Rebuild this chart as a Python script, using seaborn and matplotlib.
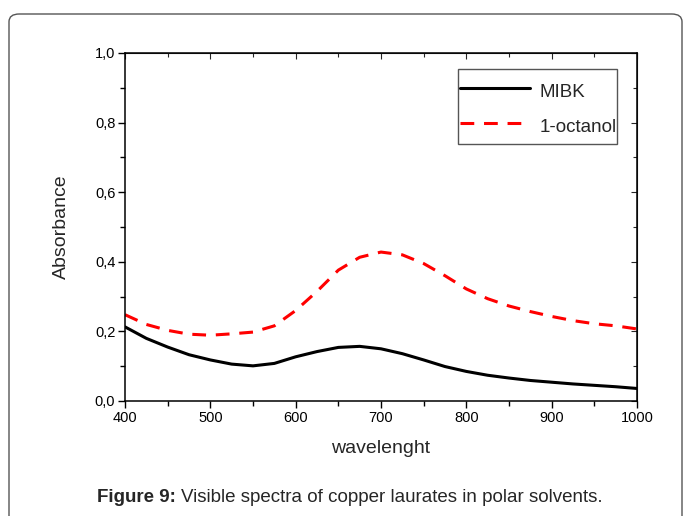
import matplotlib
matplotlib.use("Agg")
import matplotlib.pyplot as plt
import seaborn as sns
import pandas as pd
from matplotlib.patches import FancyBboxPatch, Rectangle
from matplotlib.lines import Line2D
from matplotlib.ticker import MultipleLocator, FuncFormatter

# Absorbance spectra (wavelength in nm)
wavelength = [400, 425, 450, 475, 500, 525, 550, 575, 600, 625, 650, 675, 700,
              725, 750, 775, 800, 825, 850, 875, 900, 925, 950, 975, 1000]
mibk = [0.213, 0.180, 0.155, 0.133, 0.118, 0.106, 0.101, 0.108, 0.127, 0.142,
        0.154, 0.157, 0.150, 0.136, 0.118, 0.099, 0.085, 0.074, 0.066, 0.059,
        0.054, 0.049, 0.045, 0.041, 0.036]
octanol = [0.248, 0.220, 0.203, 0.192, 0.189, 0.193, 0.198, 0.216, 0.260, 0.315,
           0.376, 0.413, 0.428, 0.420, 0.395, 0.360, 0.322, 0.294, 0.273, 0.257,
           0.243, 0.231, 0.222, 0.216, 0.207]
solvents = ["MIBK", "1-octanol"]
colors = ["black", "#ff0000"]

x_ticks = [400, 500, 600, 700, 800, 900, 1000]
y_ticks = [0.0, 0.2, 0.4, 0.6, 0.8, 1.0]

df = pd.DataFrame({
    "wavelength": wavelength * 2,
    "absorbance": mibk + octanol,
    "solvent": [solvents[0]] * len(wavelength) + [solvents[1]] * len(wavelength),
})

sns.set_style("ticks")
plt.rcParams["font.family"] = ["Liberation Sans", "DejaVu Sans"]

LW = 2.2
DASH = (4.5, 3.2)

fig = plt.figure(figsize=(6.85, 5.16), dpi=100)
ax = fig.add_axes([125 / 685, 1 - 401 / 516, 512 / 685, 348 / 516])

sns.lineplot(data=df, x="wavelength", y="absorbance", hue="solvent", style="solvent",
             hue_order=solvents, style_order=solvents,
             palette=dict(zip(solvents, colors)),
             dashes={solvents[0]: "", solvents[1]: DASH},
             linewidth=LW, ax=ax, legend=False)

ax.set_xlim(400, 1000)
ax.set_ylim(0, 1.0)
ax.set_xticks(x_ticks)
ax.set_yticks(y_ticks)
ax.xaxis.set_minor_locator(MultipleLocator(50))
ax.yaxis.set_minor_locator(MultipleLocator(0.1))
ax.yaxis.set_major_formatter(FuncFormatter(lambda v, p: f"{v:.1f}".replace(".", ",")))

for s in ax.spines.values():
    s.set_visible(True)
    s.set_linewidth(1.1)
    s.set_color("black")

ax.tick_params(which="both", direction="out", top=False, right=False,
               labelsize=10.5, colors="black", width=1.0, pad=2)
ax.tick_params(which="major", length=5)
ax.tick_params(which="minor", length=3.5)

# inward ticks on the top and right edges
axt = ax.secondary_xaxis("top")
axt.set_xticks(x_ticks)
axt.xaxis.set_minor_locator(MultipleLocator(50))
axt.tick_params(which="both", direction="in", labeltop=False, width=0.8)
axt.tick_params(which="major", length=4)
axt.tick_params(which="minor", length=3)
axr = ax.secondary_yaxis("right")
axr.set_yticks(y_ticks)
axr.yaxis.set_minor_locator(MultipleLocator(0.1))
axr.tick_params(which="both", direction="in", labelright=False, width=0.8)
axr.tick_params(which="major", length=4)
axr.tick_params(which="minor", length=3)

ax.set_xlabel("wavelenght", fontsize=14, labelpad=11)
ax.set_ylabel("Absorbance", fontsize=14, labelpad=18)

# legend, with its frame drawn as a separate rectangle
handles = [Line2D([], [], color=colors[0], lw=LW),
           Line2D([], [], color=colors[1], lw=LW, dashes=DASH)]
leg = ax.legend(handles, solvents, loc="upper right", bbox_to_anchor=(0.967, 0.937),
                fontsize=13.5, frameon=False, handlelength=3.75,
                handleheight=1.63, handletextpad=0.48, borderpad=0.2,
                labelspacing=0.56, borderaxespad=0)
ax.add_patch(Rectangle((0.650, 0.7385), 0.311, 0.2155, transform=ax.transAxes,
                       facecolor="white", edgecolor="#555555", linewidth=1.0,
                       zorder=4))
leg.set_zorder(5)

# caption panel
box = FancyBboxPatch((9 / 685, -0.1), 673 / 685, (516 - 14) / 516 + 0.1,
                     boxstyle="round,pad=0,rounding_size=0.015",
                     transform=fig.transFigure, facecolor="none",
                     edgecolor="#555555", linewidth=1.0, zorder=-1)
fig.patches.append(box)

cap_y = 1 - 497 / 516
t1 = fig.text(97 / 685, cap_y, "Figure 9:", ha="left", va="center",
              fontsize=13.5, fontweight="bold")
renderer = fig.canvas.get_renderer()
bb = t1.get_window_extent(renderer=renderer)
fig.text((bb.x1 + 5) / fig.bbox.width, cap_y,
         "Visible spectra of copper laurates in polar solvents.",
         ha="left", va="center", fontsize=13.5)

fig.savefig("out.png", dpi=100)
